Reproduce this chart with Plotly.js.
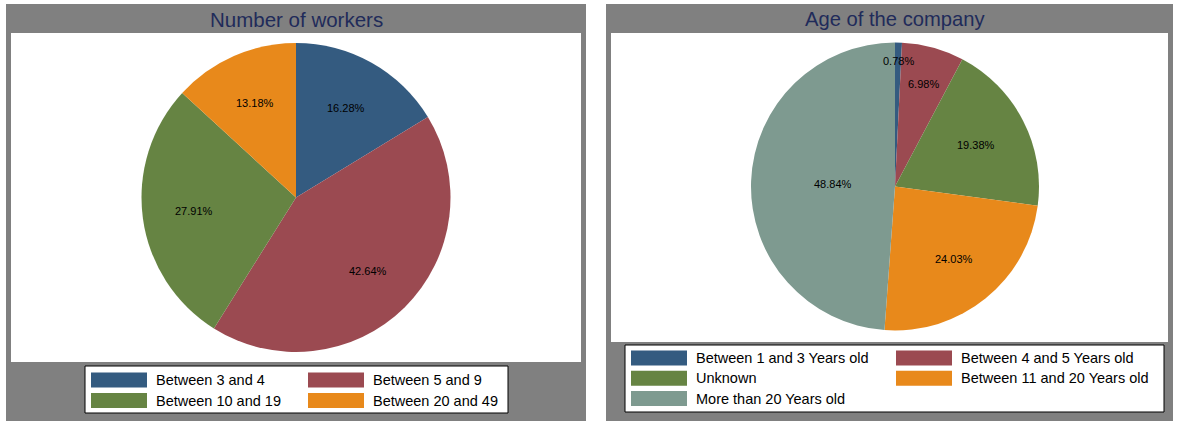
<!DOCTYPE html>
<html>
<head>
<meta charset="utf-8">
<script src="https://cdn.plot.ly/plotly-3.0.1.min.js"></script>
<style>html,body{margin:0;padding:0;background:#fff;}#chart{width:1177px;height:421px;}</style>
</head>
<body>
<div id="chart"></div>
<script>
// ---- data ----
const workersLabels = ["Between 3 and 4", "Between 5 and 9", "Between 10 and 19", "Between 20 and 49"];
const workersCounts = [21, 55, 36, 17];
const ageLabels = ["Between 1 and 3 Years old", "Between 4 and 5 Years old", "Unknown", "Between 11 and 20 Years old", "More than 20 Years old"];
const ageCounts = [1, 9, 25, 31, 63];
const titles = ["Number of workers", "Age of the company"];

// ---- style ----
const W = 1177, H = 421;
const px = x => x / W;
const py = y => 1 - y / H;
const palette = ["#345b80", "#9b4a51", "#668443", "#e8891b", "#7e9a90"];
const gray = "#808080";
const font = "Arial, 'Liberation Sans', sans-serif";
// radial position of each slice label (fraction of radius), as in the original graph
const workersLabelGap = [0.667, 0.667, 0.667, 0.667];
const ageLabelGap = [0.87, 0.74, 0.63, 0.65, 0.43];

const pieDomains = [
  {x: [px(141.5), px(450.5)], y: [py(352), py(43)]},
  {x: [px(751), px(1039)], y: [py(330.5), py(42.5)]}
];

function pieTrace(labels, values, dom) {
  return {
    type: "pie", sort: false, direction: "clockwise", rotation: 0,
    labels: labels, values: values,
    marker: {colors: palette.slice(0, labels.length), line: {width: 0}},
    textinfo: "none", hoverinfo: "label+percent", showlegend: false,
    domain: dom
  };
}

// percentage labels along each slice's bisector (clockwise from 12 o'clock),
// in a hidden [-1,1] axis frame laid exactly over the pie
function sliceLabels(values, gaps) {
  const total = values.reduce((a, b) => a + b, 0);
  let cum = 0;
  return values.map((v, i) => {
    const mid = 2 * Math.PI * (cum + v / 2) / total;
    cum += v;
    return {x: gaps[i] * Math.sin(mid), y: gaps[i] * Math.cos(mid),
            text: (100 * v / total).toFixed(2) + "%"};
  });
}
const workersPos = sliceLabels(workersCounts, workersLabelGap);
const agePos = sliceLabels(ageCounts, ageLabelGap);

const anchorTrace = (pos, xa, ya) => ({
  type: "scatter", mode: "none", x: pos.map(p => p.x), y: pos.map(p => p.y),
  xaxis: xa, yaxis: ya, hoverinfo: "skip", showlegend: false
});

const traces = [
  pieTrace(workersLabels, workersCounts, pieDomains[0]),
  pieTrace(ageLabels, ageCounts, pieDomains[1]),
  anchorTrace(workersPos, "x", "y"),
  anchorTrace(agePos, "x2", "y2")
];

const hiddenAxis = (dom, anchor) => ({
  domain: dom, range: [-1, 1], visible: false, fixedrange: true,
  showgrid: false, zeroline: false, anchor: anchor
});

const rect = (x0, y0, x1, y1, color, line) => ({
  type: "rect", xref: "paper", yref: "paper", layer: "below",
  x0: px(x0), x1: px(x1), y0: py(y1), y1: py(y0),
  fillcolor: color, line: line || {width: 0}
});

const shapes = [
  rect(6, 4, 586, 421, gray),
  rect(11, 33, 581, 362, "#fff"),
  rect(606, 4, 1173, 421, gray),
  rect(611, 33, 1168, 342, "#fff")
];
const annotations = [
  {text: titles[0], xref: "paper", yref: "paper", x: px(296.5), y: py(19), xanchor: "center", yanchor: "middle",
   showarrow: false, font: {family: font, size: 20.5, color: "#1f2b5a"}},
  {text: titles[1], xref: "paper", yref: "paper", x: px(894.5), y: py(19), xanchor: "center", yanchor: "middle",
   showarrow: false, font: {family: font, size: 20.2, color: "#1f2b5a"}}
];

const labelFont = {family: font, size: 11, color: "#000"};
workersPos.forEach(p => annotations.push({xref: "x", yref: "y", x: p.x, y: p.y, text: p.text,
  showarrow: false, xanchor: "center", yanchor: "middle", font: labelFont}));
agePos.forEach(p => annotations.push({xref: "x2", yref: "y2", x: p.x, y: p.y, text: p.text,
  showarrow: false, xanchor: "center", yanchor: "middle", font: labelFont}));

// Stata-style two-column legend boxes
function addLegend(labels, box, swLeft, colStep, row0, rowStep) {
  shapes.push(Object.assign(rect(box[0], box[1], box[2], box[3], "#fff", {color: "#000", width: 1}), {layer: "above"}));
  labels.forEach((lab, i) => {
    const col = i % 2, row = Math.floor(i / 2);
    const sx = swLeft + col * colStep, sy = row0 + row * rowStep;
    shapes.push(Object.assign(rect(sx, sy - 7.5, sx + 56, sy + 7.5, palette[i]), {layer: "above"}));
    annotations.push({
      text: lab, xref: "paper", yref: "paper", x: px(sx + 63), y: py(sy),
      xanchor: "left", yanchor: "middle", showarrow: false,
      font: {family: font, size: 14.5, color: "#000"}
    });
  });
}
addLegend(workersLabels, [85, 366, 508, 413], 91, 217, 380, 20.5);
addLegend(ageLabels, [625, 345, 1164, 412], 631, 265, 358, 20.3);

const layout = {
  width: W, height: H,
  margin: {l: 0, r: 0, t: 0, b: 0},
  paper_bgcolor: "#fff",
  plot_bgcolor: "rgba(0,0,0,0)",
  font: {family: font, color: "#000"},
  showlegend: false,
  xaxis: hiddenAxis(pieDomains[0].x, "y"),
  yaxis: hiddenAxis(pieDomains[0].y, "x"),
  xaxis2: hiddenAxis(pieDomains[1].x, "y2"),
  yaxis2: hiddenAxis(pieDomains[1].y, "x2"),
  shapes: shapes,
  annotations: annotations
};

Plotly.newPlot("chart", traces, layout, {displayModeBar: false, staticPlot: true});
</script>
</body>
</html>
